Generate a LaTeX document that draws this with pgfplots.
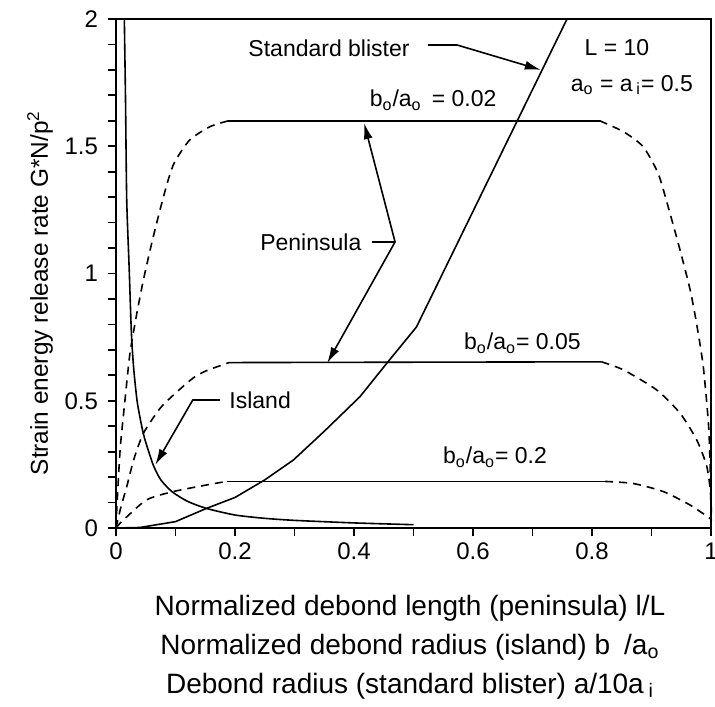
\documentclass[border=0pt]{standalone}
\usepackage{fontspec}
\setmainfont{Liberation Sans}
\usepackage{pgfplots}
\pgfplotsset{compat=1.18}
\usetikzlibrary{arrows.meta}
\begin{document}
\begin{tikzpicture}
\begin{axis}[
  at={(0,0)}, anchor=south west,
  width=297.5pt, height=254.5pt, scale only axis,
  xmin=0, xmax=1, ymin=0, ymax=2,
  xtick={0,0.2,0.4,0.6,0.8,1}, ytick={0,0.5,1,1.5,2},
  minor x tick num=1, minor y tick num=4,
  tick align=outside, tick pos=left,
  major tick length=4pt, minor tick length=4pt,
  tick style={black, line width=0.9pt},
  axis line style={line width=1.2pt},
  /pgf/number format/assume math mode=true,
  ticklabel style={font=\fontsize{12}{14}\selectfont},
  yticklabel style={xshift=-1.5pt},
  clip=false,
  sol/.style={black, solid, no markers, line width=0.8pt},
  das/.style={black, no markers, line width=0.8pt, dash pattern=on 4pt off 3pt, smooth, tension=0.4},
]
% Island
\addplot[sol, smooth, tension=0.4] coordinates {(0.014,2.0)(0.016,1.68)(0.018,1.29)(0.022,1.03)(0.026,0.76)(0.03,0.62)(0.036,0.49)(0.046,0.37)(0.055,0.3)(0.063,0.245)(0.075,0.19)(0.094,0.143)(0.12,0.105)(0.152,0.077)(0.2,0.051)(0.25,0.038)(0.3,0.03)(0.4,0.02)(0.5,0.013)};
% Standard blister
\addplot[sol] coordinates {(0,0)(0.04,0.002)(0.1,0.025)(0.152,0.077)(0.2,0.12)(0.25,0.189)(0.298,0.267)(0.35,0.38)(0.41,0.516)(0.455,0.647)(0.505,0.79)(0.758,2.0)};
% Peninsula b/a = 0.02
\addplot[das] coordinates {(0,0)(0.001,0.06)(0.007,0.31)(0.015,0.50)(0.0235,0.687)(0.035,0.843)(0.046,0.974)(0.060,1.119)(0.074,1.25)(0.088,1.37)(0.099,1.44)(0.124,1.525)(0.158,1.577)(0.189,1.6)};
\addplot[sol] coordinates {(0.189,1.6)(0.813,1.6)};
\addplot[das] coordinates {(0.813,1.6)(0.853,1.557)(0.886,1.498)(0.911,1.394)(0.928,1.262)(0.948,1.092)(0.965,0.935)(0.976,0.80)(0.987,0.634)(0.996,0.40)(0.999,0.2)(1.0,0.0)};
% Peninsula b/a = 0.05
\addplot[das] coordinates {(0,0)(0.008,0.08)(0.018,0.162)(0.03,0.27)(0.046,0.372)(0.074,0.47)(0.1,0.53)(0.13,0.59)(0.152,0.618)(0.19,0.65)};
\addplot[sol] coordinates {(0.19,0.65)(0.816,0.653)};
\addplot[das] coordinates {(0.816,0.653)(0.853,0.621)(0.909,0.542)(0.948,0.451)(0.976,0.346)(0.993,0.241)(1.0,0.12)(1.0,0.0)};
% Peninsula b/a = 0.2
\addplot[das] coordinates {(0,0)(0.0096,0.025)(0.051,0.11)(0.096,0.143)(0.152,0.169)(0.186,0.183)};
\addplot[sol] coordinates {(0.186,0.183)(0.822,0.183)};
\addplot[das] coordinates {(0.822,0.183)(0.869,0.175)(0.92,0.143)(0.965,0.09)(0.998,0.038)(1.0,0.03)};
% annotations
\begin{scope}[font=\fontsize{11.5}{13}\selectfont]
\node[anchor=west, inner sep=0pt] at (axis cs:0.222,1.886) {Standard blister};
\draw[line width=0.8pt, -{Latex[length=8pt,width=4.5pt]}] (axis cs:0.524,1.898) -- (axis cs:0.573,1.898) -- (axis cs:0.714,1.80);
\node at (axis cs:0.842,1.886) {L = 10};
\node at (axis cs:0.867,1.741) {a\textsubscript{o} = a\,\textsubscript{i}= 0.5};
\node at (axis cs:0.533,1.68) {b\textsubscript{o}/a\textsubscript{o} \,= 0.02};
\node[anchor=east, inner sep=0pt] at (axis cs:0.413,1.124) {Peninsula};
\draw[line width=0.8pt] (axis cs:0.430,1.124) -- (axis cs:0.469,1.124);
\draw[line width=0.8pt, -{Latex[length=8pt,width=4.5pt]}] (axis cs:0.469,1.124) -- (axis cs:0.417,1.591);
\draw[line width=0.8pt, -{Latex[length=8pt,width=4.5pt]}] (axis cs:0.469,1.124) -- (axis cs:0.355,0.648);
\node[anchor=west, inner sep=0pt] at (axis cs:0.19,0.503) {Island};
\draw[line width=0.8pt, -{Latex[length=8pt,width=4.5pt]}] (axis cs:0.175,0.503) -- (axis cs:0.129,0.503) -- (axis cs:0.066,0.248);
\node at (axis cs:0.683,0.727) {b\textsubscript{o}/a\textsubscript{o}= 0.05};
\node at (axis cs:0.637,0.279) {b\textsubscript{o}/a\textsubscript{o}= 0.2};
\end{scope}
\end{axis}
\node[rotate=90, font=\fontsize{12.2}{14}\selectfont] at (-38pt,117.5pt) {Strain energy release rate G*N/p\textsuperscript{2}};
\begin{scope}[font=\fontsize{14}{16}\selectfont]
\node at (147pt,-40pt) {Normalized debond length (peninsula) l/L};
\node at (147pt,-59.5pt) {Normalized debond radius (island) b\,\,\,/a\textsubscript{o}};
\node at (147pt,-79pt) {Debond radius (standard blister) a/10a\,\textsubscript{i}};
\end{scope}
\pgfresetboundingbox
\path (-58pt,-89pt) rectangle (299.5pt,264pt);
\end{tikzpicture}
\end{document}
